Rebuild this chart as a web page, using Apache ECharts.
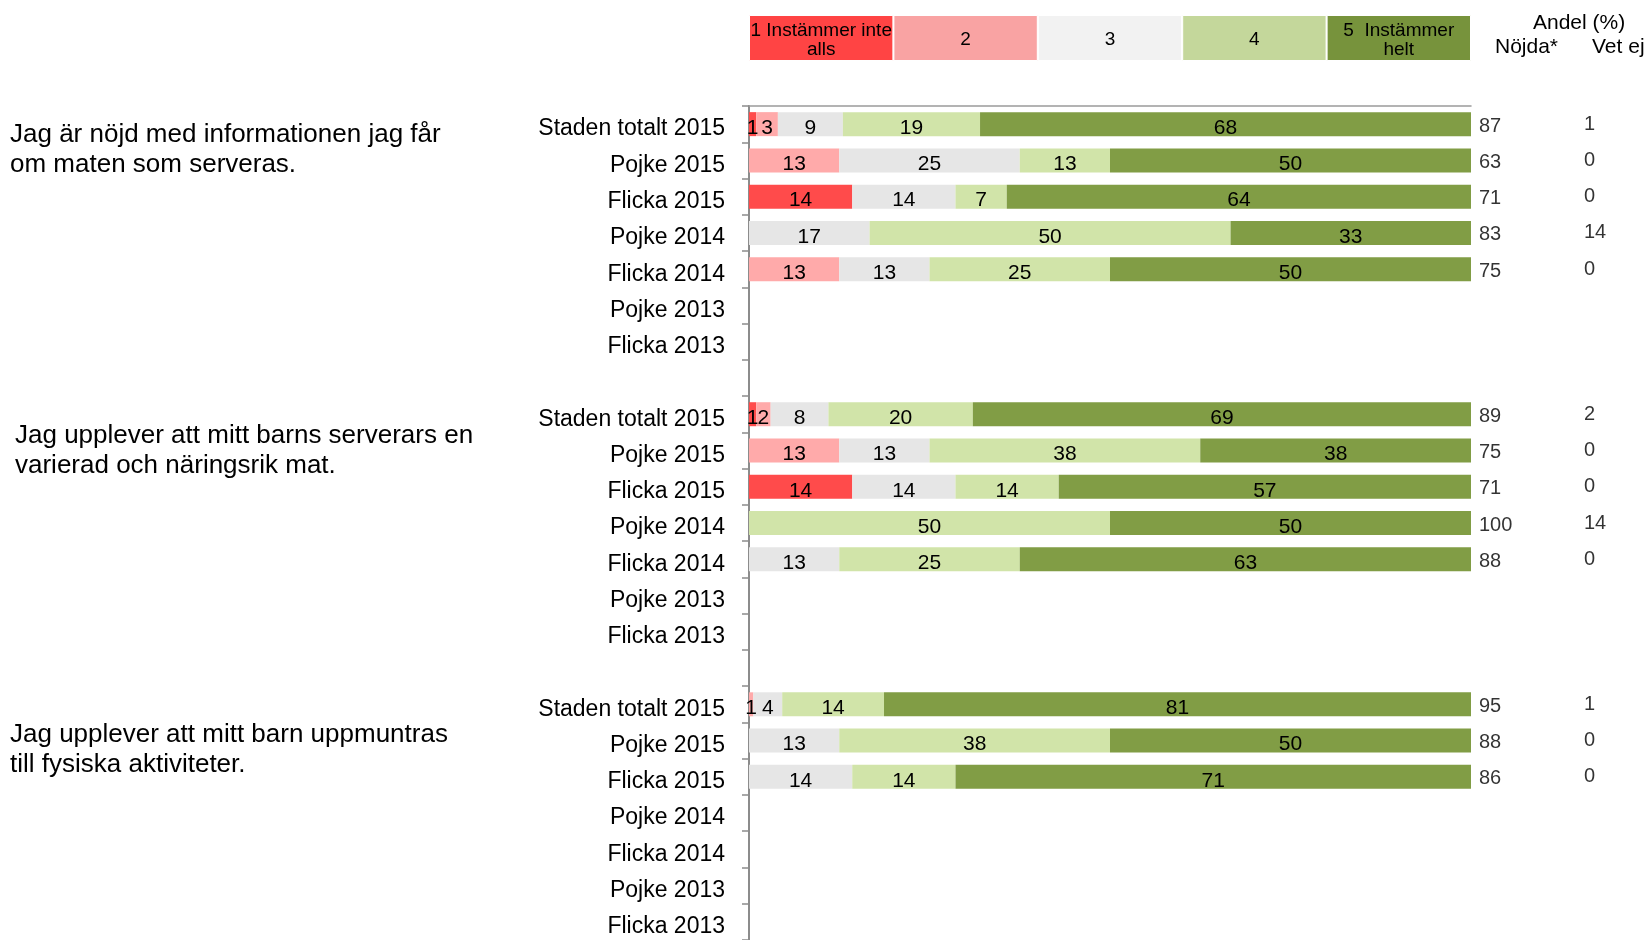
<!DOCTYPE html>
<html>
<head>
<meta charset="utf-8">
<script src="https://cdn.jsdelivr.net/npm/echarts@6/dist/echarts.min.js"></script>
<style>
  html, body { margin: 0; padding: 0; background: #fff; }
  #chart { width: 1648px; height: 940px; }
</style>
</head>
<body>
<div id="chart"></div>
<script>
const FONT = '"Liberation Sans", Arial, sans-serif'

// rows, top to bottom ('' = gap between the questions)
const rows = ['Staden totalt 2015', 'Pojke 2015', 'Flicka 2015', 'Pojke 2014', 'Flicka 2014', 'Pojke 2013', 'Flicka 2013']
const categories = [...rows, '', ...rows, '', ...rows]

// share (%) per answer level, one value per row
const level1 = [1, 0, 14.3, 0, 0, null, null, null, 1, 0, 14.3, 0, 0, null, null, null, 0, 0, 0, null, null, null, null]
const level2 = [3, 12.5, 0, 0, 12.5, null, null, null, 2, 12.5, 0, 0, 0, null, null, null, 0.6, 0, 0, null, null, null, null]
const level3 = [9, 25, 14.3, 16.7, 12.5, null, null, null, 8, 12.5, 14.3, 0, 12.5, null, null, null, 4, 12.5, 14.3, null, null, null, null]
const level4 = [19, 12.5, 7.1, 50, 25, null, null, null, 20, 37.5, 14.3, 50, 25, null, null, null, 14.1, 37.5, 14.3, null, null, null, null]
const level5 = [68, 50, 64.3, 33.3, 50, null, null, null, 69, 37.5, 57.1, 50, 62.5, null, null, null, 81.3, 50, 71.4, null, null, null, null]

const nojda = [87, 63, 71, 83, 75, null, null, null, 89, 75, 71, 100, 88, null, null, null, 95, 88, 86, null, null, null, null]
const vetEj = [1, 0, 0, 14, 0, null, null, null, 2, 0, 0, 14, 0, null, null, null, 1, 0, 0, null, null, null, null]

const levelNames = ['1 Instämmer inte\nalls', '2', '3', '4', '5  Instämmer\nhelt']
const legendShare = [20, 20, 20, 20, 20]
const barColors = ['#ff4b4b', '#ffaaaa', '#e6e6e6', '#d1e4a9', '#819d45']
const legendColors = ['#ff4444', '#f9a3a3', '#f2f2f2', '#c4d79b', '#77933c']

const questions = [
    { text: 'Jag är nöjd med informationen jag får\nom maten som serveras.', x: 10, y: 120 },
    { text: 'Jag upplever att mitt barns serverars en\nvarierad och näringsrik mat.', x: 15, y: 421 },
    { text: 'Jag upplever att mitt barn uppmuntras\ntill fysiska aktiviteter.', x: 10, y: 720 }
]

const levels = [level1, level2, level3, level4, level5]

let chart = echarts.init(document.getElementById('chart'))

let barSeries = levels.map((vals, i) => ({
    type: 'bar',
    stack: 'total',
    xAxisIndex: 0,
    yAxisIndex: 0,
    barWidth: 24,
    data: vals.map(v => v == null ? '-' : v),
    itemStyle: { color: barColors[i] },
    label: {
        show: true,
        position: 'inside',
        offset: [0, 4],
        color: '#000',
        fontSize: 21,
        fontFamily: FONT,
        formatter: p => (p.value == null || p.value < 0.5) ? '' : String(Math.round(p.value))
    },
    silent: true
}))

let legendSeries = legendShare.map((v, i) => ({
    type: 'bar',
    stack: 'legend',
    xAxisIndex: 1,
    yAxisIndex: 1,
    barWidth: '100%',
    data: [v],
    itemStyle: { color: legendColors[i], borderColor: '#fff', borderWidth: 1 },
    label: {
        show: true,
        position: 'inside',
        offset: [0, 2],
        color: '#000',
        fontSize: 19,
        lineHeight: 19,
        fontFamily: FONT,
        formatter: levelNames[i]
    },
    silent: true
}))

function columnSeries(values, dx, dy) {
    return {
        type: 'scatter',
        xAxisIndex: 0,
        yAxisIndex: 0,
        symbolSize: 0,
        clip: false,
        data: values.map((v, i) => v == null ? null : [100, i, v]).filter(d => d),
        label: {
            show: true,
            position: 'right',
            distance: 0,
            offset: [dx, dy],
            color: '#000',
            fontSize: 20,
            fontFamily: FONT,
            formatter: p => String(p.value[2])
        },
        silent: true
    }
}

let graphics = questions.map(q => ({
    type: 'text',
    left: q.x,
    top: q.y,
    style: { text: q.text, fill: '#000', fontSize: 26, lineHeight: 30, fontFamily: FONT }
}))
graphics.push(
    { type: 'text', left: 1533, top: 13, style: { text: 'Andel (%)', fill: '#000', fontSize: 21, fontFamily: FONT } },
    { type: 'text', left: 1495, top: 37, style: { text: 'Nöjda*', fill: '#000', fontSize: 21, fontFamily: FONT } },
    { type: 'text', left: 1592, top: 37, style: { text: 'Vet ej', fill: '#000', fontSize: 21, fontFamily: FONT } }
)

chart.setOption({
    animation: false,
    backgroundColor: '#fff',
    grid: [
        { left: 749, width: 722, top: 106, height: 835 },
        { left: 749, width: 722, top: 15, height: 46 }
    ],
    xAxis: [
        {
            gridIndex: 0,
            type: 'value',
            position: 'top',
            min: 0,
            max: 100,
            axisLine: { show: true, lineStyle: { color: '#9a9a9a', width: 1.5 } },
            axisTick: { show: false },
            axisLabel: { show: false },
            splitLine: { show: false }
        },
        {
            gridIndex: 1,
            type: 'value',
            min: 0,
            max: 100,
            show: false
        }
    ],
    yAxis: [
        {
            gridIndex: 0,
            type: 'category',
            inverse: true,
            data: categories,
            axisLine: { show: true, lineStyle: { color: '#8c8c8c', width: 2 } },
            axisTick: { show: true, length: 7, lineStyle: { color: '#8c8c8c', width: 1.5 } },
            axisLabel: {
                color: '#000',
                fontSize: 23,
                fontFamily: FONT,
                margin: 24,
                verticalAlign: 'top',
                lineHeight: 10,
                interval: 0
            }
        },
        {
            gridIndex: 1,
            type: 'category',
            data: ['legend'],
            show: false
        }
    ],
    series: [
        ...barSeries,
        ...legendSeries,
        columnSeries(nojda, 8, 2),
        columnSeries(vetEj, 113, 0)
    ],
    graphic: graphics
})
</script>
</body>
</html>
